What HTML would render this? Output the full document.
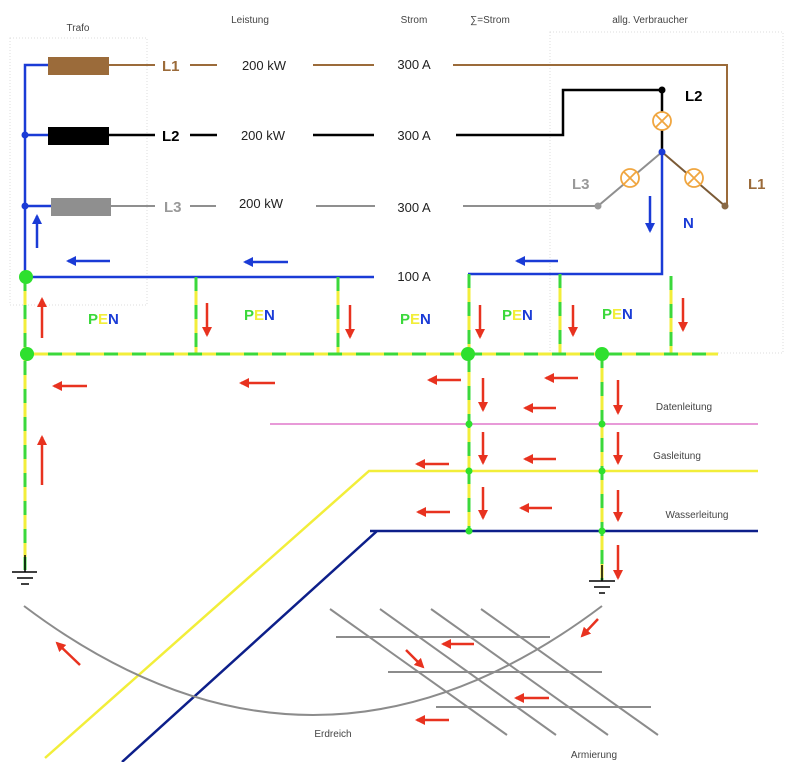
<!DOCTYPE html>
<html><head><meta charset="utf-8"><style>
html,body{margin:0;padding:0;background:#fff;}
svg{display:block;font-family:"Liberation Sans",sans-serif;}
</style></head><body>
<svg width="800" height="762" viewBox="0 0 800 762" xmlns="http://www.w3.org/2000/svg">
<defs>
<marker id="ar" viewBox="0 0 10 10" refX="8" refY="5" markerWidth="4" markerHeight="4" orient="auto"><path d="M0,0 L10,5 L0,10 z" fill="#e8321f"/></marker>
<marker id="ab" viewBox="0 0 10 10" refX="8" refY="5" markerWidth="4" markerHeight="4" orient="auto"><path d="M0,0 L10,5 L0,10 z" fill="#1a3bd6"/></marker>
</defs>
<!-- boxes -->
<rect x="10" y="38" width="137" height="267" fill="none" stroke="#ddd" stroke-dasharray="1,2"/>
<rect x="550" y="32" width="233" height="321" fill="none" stroke="#ddd" stroke-dasharray="1,2"/>
<g font-size="10" fill="#444" text-anchor="middle">
<text x="78" y="31">Trafo</text><text x="250" y="23">Leistung</text><text x="414" y="23">Strom</text><text x="490" y="23">∑=Strom</text><text x="650" y="23">allg. Verbraucher</text>
<text x="684" y="410">Datenleitung</text><text x="677" y="459">Gasleitung</text><text x="697" y="518">Wasserleitung</text>
<text x="333" y="737">Erdreich</text><text x="594" y="758">Armierung</text>
</g>
<!-- blue trafo -->
<g stroke="#1a3bd6" stroke-width="2.5" fill="none">
<path d="M48,65 H25 V277 H374"/><path d="M25,135 H48 M25,206 H51"/>
<path d="M662,152 V274 H468"/>
</g>
<circle cx="25" cy="135" r="3.5" fill="#1a3bd6"/><circle cx="25" cy="206" r="3.5" fill="#1a3bd6"/>
<!-- coils -->
<rect x="48" y="57" width="61" height="18" fill="#9b6b3a"/>
<rect x="48" y="127" width="61" height="18" fill="#000"/>
<rect x="51" y="198" width="60" height="18" fill="#8f8f8f"/>
<!-- phase lines -->
<g stroke-width="2" fill="none">
<path d="M109,65 H155 M190,65 H217 M313,65 H374 M453,65 H727 V206" stroke="#9b6b3a"/>
<path d="M109,135 H155 M190,135 H217 M313,135 H374 M456,135 H563 V90 H662 V152" stroke="#000" stroke-width="2.5"/>
<path d="M111,206 H155 M190,206 H216 M316,206 H375 M463,206 H598 L662,152" stroke="#8f8f8f"/>
<path d="M662,152 L725,206" stroke="#7b5a36"/>
</g>
<circle cx="662" cy="90" r="3.5" fill="#000"/><circle cx="725" cy="206" r="3.5" fill="#8a6a46"/><circle cx="598" cy="206" r="3.5" fill="#999"/><circle cx="662" cy="152" r="3.5" fill="#1a3bd6"/>
<g stroke="#f0a640" stroke-width="1.8" fill="#fff">
<g transform="translate(662,121)"><circle r="9"/><path d="M-6,-6 L6,6 M-6,6 L6,-6"/></g>
<g transform="translate(630,178)"><circle r="9"/><path d="M-6,-6 L6,6 M-6,6 L6,-6"/></g>
<g transform="translate(694,178)"><circle r="9"/><path d="M-6,-6 L6,6 M-6,6 L6,-6"/></g>
</g>
<g font-weight="bold" font-size="15">
<text x="162" y="71" fill="#9b6b3a">L1</text><text x="162" y="141" fill="#000">L2</text><text x="164" y="212" fill="#999">L3</text>
<text x="685" y="101" fill="#000">L2</text><text x="572" y="189" fill="#999">L3</text><text x="748" y="189" fill="#9b6b3a">L1</text><text x="683" y="228" fill="#1a3bd6">N</text>
</g>
<g font-size="13" fill="#222" text-anchor="middle">
<text x="264" y="70">200 kW</text><text x="263" y="140">200 kW</text><text x="261" y="208">200 kW</text>
<text x="414" y="69">300 A</text><text x="414" y="140">300 A</text><text x="414" y="212">300 A</text><text x="414" y="281">100 A</text>
</g>
<!-- blue arrows -->
<g stroke="#1a3bd6" stroke-width="2.5" marker-end="url(#ab)">
<line x1="110" y1="261" x2="68" y2="261"/><line x1="288" y1="262" x2="245" y2="262"/><line x1="558" y1="261" x2="517" y2="261"/>
<line x1="37" y1="248" x2="37" y2="216"/><line x1="650" y1="196" x2="650" y2="231"/>
</g>
<!-- utility lines -->
<g fill="none" stroke-width="2.5">
<path d="M270,424 H758" stroke="#e89ad8" stroke-width="2"/>
<path d="M45,758 L369,471 H758" stroke="#f2ee3a"/>
<path d="M122,762 L377,531 H370 M377,531 H758" stroke="#0d1f8a"/>
</g>
<!-- PEN dashed -->
<g fill="none" stroke-width="3">
<g stroke="#f2ee3a"><path d="M20,354 H718 M25,277 V570 M196,277 V354 M338,277 V354 M469,274 V530 M560,274 V354 M671,276 V354 M602,354 V580"/></g>
<g stroke="#3bd83b" stroke-dasharray="14,14"><path d="M20,354 H718 M25,277 V570 M196,277 V354 M338,277 V354 M469,274 V530 M560,274 V354 M671,276 V354 M602,354 V580"/></g>
</g>
<g fill="#2ee02e">
<circle cx="26" cy="277" r="7"/><circle cx="27" cy="354" r="7"/><circle cx="468" cy="354" r="7"/><circle cx="602" cy="354" r="7"/>
<circle cx="469" cy="424" r="3.5"/><circle cx="469" cy="471" r="3.5"/><circle cx="469" cy="531" r="3.5"/>
<circle cx="602" cy="424" r="3.5"/><circle cx="602" cy="471" r="3.5"/><circle cx="602" cy="531" r="3.5"/>
</g>
<g font-weight="bold" font-size="15">
<text x="88" y="324"><tspan fill="#3bd83b">P</tspan><tspan fill="#f2ee3a">E</tspan><tspan fill="#1a3bd6">N</tspan></text>
<text x="244" y="320"><tspan fill="#3bd83b">P</tspan><tspan fill="#f2ee3a">E</tspan><tspan fill="#1a3bd6">N</tspan></text>
<text x="400" y="324"><tspan fill="#3bd83b">P</tspan><tspan fill="#f2ee3a">E</tspan><tspan fill="#1a3bd6">N</tspan></text>
<text x="502" y="320"><tspan fill="#3bd83b">P</tspan><tspan fill="#f2ee3a">E</tspan><tspan fill="#1a3bd6">N</tspan></text>
<text x="602" y="319"><tspan fill="#3bd83b">P</tspan><tspan fill="#f2ee3a">E</tspan><tspan fill="#1a3bd6">N</tspan></text>
</g>
<!-- grounds -->
<g stroke="#000" stroke-width="1.5">
<path d="M25,555 V572 M12,572 H37 M17,578 H33 M21,584 H29"/>
<path d="M602,565 V581 M589,581 H615 M594,587 H610 M599,593 H605"/>
</g>
<!-- earth arc & rebar -->
<g fill="none" stroke="#8c8c8c" stroke-width="2">
<path d="M24,606 Q313,824 602,606"/>
<path d="M330,609 L507,735 M380,609 L556,735 M431,609 L608,735 M481,609 L658,735 M336,637 H550 M388,672 H602 M436,707 H651"/>
</g>
<!-- red arrows -->
<g stroke="#e8321f" stroke-width="2.5" marker-end="url(#ar)">
<line x1="42" y1="338" x2="42" y2="299"/><line x1="42" y1="485" x2="42" y2="437"/>
<line x1="207" y1="303" x2="207" y2="335"/><line x1="350" y1="305" x2="350" y2="337"/><line x1="480" y1="305" x2="480" y2="337"/><line x1="573" y1="305" x2="573" y2="335"/><line x1="683" y1="298" x2="683" y2="330"/>
<line x1="87" y1="386" x2="54" y2="386"/><line x1="275" y1="383" x2="241" y2="383"/><line x1="461" y1="380" x2="429" y2="380"/><line x1="578" y1="378" x2="546" y2="378"/>
<line x1="483" y1="378" x2="483" y2="410"/><line x1="618" y1="380" x2="618" y2="413"/><line x1="556" y1="408" x2="525" y2="408"/>
<line x1="483" y1="432" x2="483" y2="463"/><line x1="618" y1="432" x2="618" y2="463"/><line x1="449" y1="464" x2="417" y2="464"/><line x1="556" y1="459" x2="525" y2="459"/>
<line x1="483" y1="487" x2="483" y2="518"/><line x1="618" y1="490" x2="618" y2="520"/><line x1="450" y1="512" x2="418" y2="512"/><line x1="552" y1="508" x2="521" y2="508"/>
<line x1="618" y1="545" x2="618" y2="578"/>
<line x1="80" y1="665" x2="57" y2="643"/><line x1="474" y1="644" x2="443" y2="644"/><line x1="406" y1="650" x2="423" y2="667"/><line x1="549" y1="698" x2="516" y2="698"/><line x1="449" y1="720" x2="417" y2="720"/><line x1="598" y1="619" x2="582" y2="636"/>
</g>
</svg>
</body></html>
